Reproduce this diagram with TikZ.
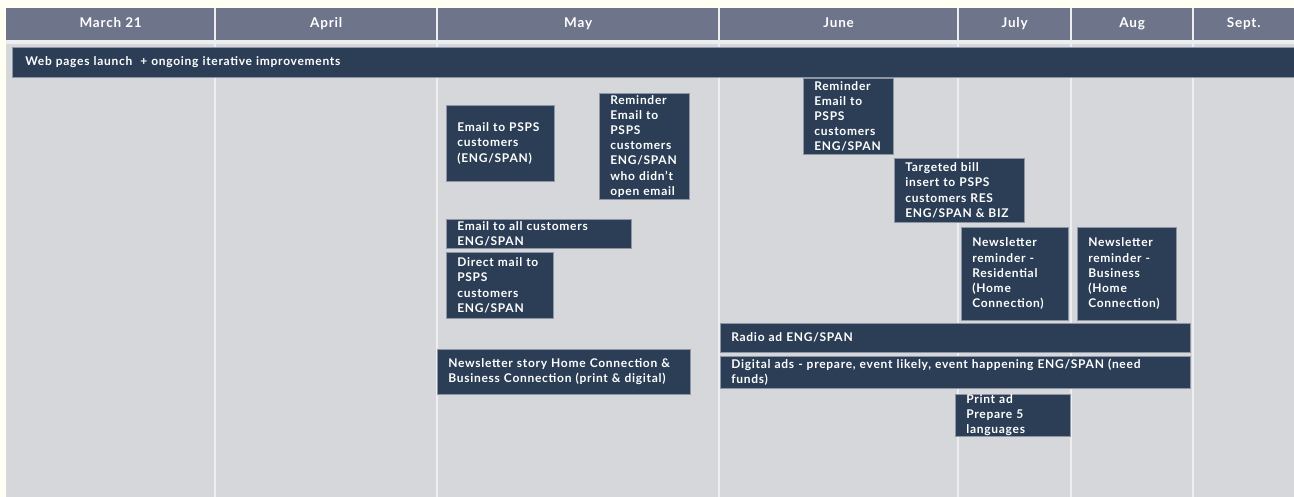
\documentclass[tikz,border=0pt]{standalone}
\usepackage{fontspec}
\setmainfont{Lato}[LetterSpace=6]
\usetikzlibrary{positioning}
\definecolor{ivory}{HTML}{FFFFF3}
\definecolor{slate}{HTML}{6E748A}
\definecolor{panel}{HTML}{D6D7DB}
\definecolor{navy}{HTML}{2B3E56}
\definecolor{rim}{HTML}{8C96A6}
\definecolor{rule}{HTML}{EEEEF1}

\begin{document}
\begin{tikzpicture}[x=1pt, y=-1pt,
	month/.style={fill=slate, text=white, font=\bfseries\fontsize{13.5}{15}\selectfont,
		minimum height=32pt, inner sep=0pt, text height=10pt, text depth=3pt, anchor=north west},
	task/.style={fill=navy, draw=rim, line width=0.6pt, text=white,
		font=\bfseries\fontsize{12}{15.2}\selectfont, align=left,
		inner xsep=11pt, inner ysep=0pt, anchor=north west}]
	\useasboundingbox (0,0) rectangle (1294,497);
	\fill[ivory] (0,0) rectangle (1294,497);
	\fill[panel] (6,40) rectangle (1294,497);
	\fill[rule] (6,40) rectangle (1294,44);
	% month header
	\foreach \x/\w/\lbl/\id in {6/209/March 21/mar, 215/222/April/apr, 437/282/May/may,
		719/239/June/jun, 958/113/July/jul, 1071/122/Aug/aug, 1193/101/Sept./sep}
		\node[month, minimum width=\w pt] (\id) at (\x,8) {\lbl};
	\foreach \x in {215,437,719,958,1071,1193}
		\draw[rule, line width=2pt] (\x,8) -- (\x,497);
	% activities
	\node[task, inner xsep=13pt, text width=1256pt, minimum height=30pt] (web) at (12,47)
		{Web pages launch \ + ongoing iterative improvements};
	\node[task, text width=86pt, minimum height=76pt] (pspsmail) at (446,105)
		{Email to PSPS\\customers\\(ENG/SPAN)};
	\node[task, text width=68pt, minimum height=106pt] (pspsremind) at (599,93)
		{Reminder\\Email to\\PSPS\\customers\\ENG/SPAN\\who didn’t\\open email};
	\node[task, text width=68pt, minimum height=76pt] (junremind) at (803,78)
		{Reminder\\Email to\\PSPS\\customers\\ENG/SPAN};
	\node[task, text width=108pt, minimum height=64pt] (billinsert) at (894,158)
		{Targeted bill\\insert to PSPS\\customers RES\\ENG/SPAN \& BIZ};
	\node[task, text width=163pt, minimum height=29pt] (allmail) at (446,219)
		{Email to all customers\\ENG/SPAN};
	\node[task, text width=85pt, minimum height=66pt] (directmail) at (446,252)
		{Direct mail to\\PSPS\\customers\\ENG/SPAN};
	\node[task, text width=85pt, minimum height=93pt] (homenews) at (961,227)
		{Newsletter\\reminder -\\Residential\\(Home\\Connection)};
	\node[task, text width=77pt, minimum height=93pt] (biznews) at (1077,227)
		{Newsletter\\reminder -\\Business\\(Home\\Connection)};
	\node[task, text width=448pt, minimum height=29pt] (radio) at (720,323)
		{Radio ad ENG/SPAN};
	\node[task, text width=448pt, minimum height=32pt] (digital) at (720,356)
		{Digital ads - prepare, event likely, event happening ENG/SPAN (need\\funds)};
	\node[task, text width=231pt, minimum height=45pt] (story) at (437,349)
		{Newsletter story Home Connection \&\\Business Connection (print \& digital)};
	\node[task, text width=93pt, minimum height=42pt] (printad) at (955,394)
		{Print ad\\Prepare 5\\languages};
\end{tikzpicture}
\end{document}
